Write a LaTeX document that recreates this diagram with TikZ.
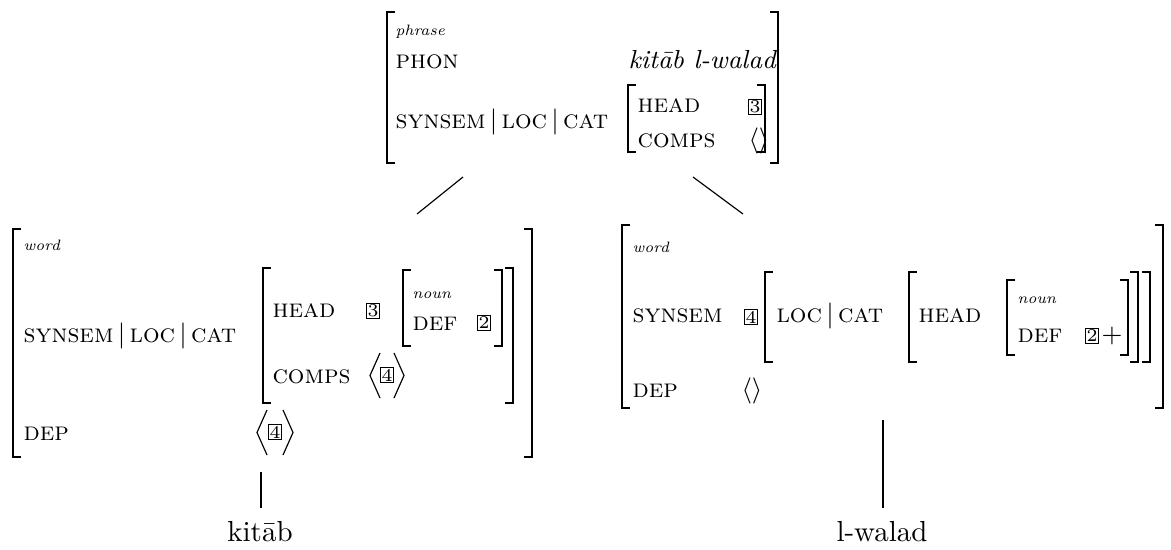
\documentclass[tikz,border=0pt]{standalone}
% square brackets of an attribute-value matrix: x, top y, bottom y
\newcommand{\avmL}[3]{\draw[brk] ({#1+8},#2) -- (#1,#2) -- (#1,#3) -- ({#1+8},#3);}
\newcommand{\avmR}[3]{\draw[brk] ({#1-8},#2) -- (#1,#2) -- (#1,#3) -- ({#1-8},#3);}
% angle brackets of a list: x, top y, bottom y, width
\newcommand{\avmLA}[4]{\draw[ang] ({#1+#4},#2) -- (#1,{(#2+#3)/2}) -- ({#1+#4},#3);}
\newcommand{\avmRA}[4]{\draw[ang] ({#1-#4},#2) -- (#1,{(#2+#3)/2}) -- ({#1-#4},#3);}
\begin{document}
\begin{tikzpicture}[x=0.345pt,y=-0.345pt,
  brk/.style={line width=0.55pt},
  ang/.style={line width=0.4pt, line join=miter},
  edge/.style={line width=0.4pt},
  attr/.style={anchor=base west, inner sep=0pt, font=\small\scshape},
  typ/.style={anchor=base west, inner sep=0pt, font=\fontsize{5.2}{6}\selectfont\itshape},
  val/.style={anchor=base west, inner sep=0pt, font=\small},
  tagbox/.style={draw, line width=0.4pt, inner sep=0pt, minimum width=4.6pt,
    minimum height=4.9pt, font=\fontsize{6.2}{7}\selectfont},
  leaf/.style={anchor=base, inner sep=0pt, font=\normalsize}]
\useasboundingbox (0,0) rectangle (1171,549);

% ---------- mother: phrase ----------
\avmL{387}{12}{163}
\avmR{778}{12}{163}
\node[typ]  (mtype) at (395,35)  {phrase};
\node[attr] (mphon) at (395,68)  {phon};
\node[val]  (mphonv) at (628,68) {\textit{kit\=ab l-walad}};
\node[attr] (mpath) at (395,128) {synsem\,$|$\,loc\,$|$\,cat};
\avmL{628}{85}{152}
\avmR{765}{85}{152}
\node[attr] (mhead) at (637,112) {head};
\node[attr] (mcomps) at (637,147) {comps};
\node[tagbox] (mtag3) at (755,107) {3};
\node[val]  (mcompsv) at (748,147) {$\langle\rangle$};

% ---------- left daughter: kitab ----------
\avmL{13}{229}{457}
\avmR{532}{229}{457}
\node[typ]  (ktype) at (23,250)  {word};
\node[attr] (kpath) at (23,342)  {synsem\,$|$\,loc\,$|$\,cat};
\node[attr] (kdep)  at (23,440)  {dep};
\avmL{263}{268}{403}
\avmR{513}{268}{403}
\node[attr] (khead) at (272,317) {head};
\node[tagbox] (ktag3) at (373,311) {3};
\avmL{403}{270}{346}
\avmR{502}{270}{346}
\node[typ]  (knoun) at (412,298) {noun};
\node[attr] (kdef)  at (412,330) {def};
\node[tagbox] (ktag2) at (484,323) {2};
\node[attr] (kcomps) at (272,383) {comps};
\avmLA{370}{353}{398}{10}
\node[tagbox] (ktag4a) at (387,375) {4};
\avmRA{404}{353}{398}{10}
\avmLA{257}{410}{455}{10}
\node[tagbox] (ktag4b) at (275,432) {4};
\avmRA{293}{410}{455}{10}

% ---------- right daughter: l-walad ----------
\avmL{622}{225}{408}
\avmR{1163}{225}{408}
\node[typ]  (wtype) at (632,252) {word};
\node[attr] (wsynsem) at (632,322) {synsem};
\node[tagbox] (wtag4) at (751,317) {4};
\avmL{765}{272}{362}
\avmR{1150}{272}{362}
\node[attr] (wpath) at (776,322) {loc\,$|$\,cat};
\avmL{909}{272}{362}
\avmR{1138}{272}{362}
\node[attr] (whead) at (918,322) {head};
\avmL{1007}{280}{355}
\avmR{1128}{280}{355}
\node[typ]  (wnoun) at (1017,303) {noun};
\node[attr] (wdef)  at (1017,342) {def};
\node[tagbox] (wtag2) at (1092,336) {2};
\node[val]  (wplus) at (1101,342) {$+$};
\node[attr] (wdep)  at (632,397) {dep};
\node[val]  (wdepv) at (741,397) {$\langle\rangle$};

% ---------- words ----------
\node[leaf] (kitab) at (260,541) {kit\=ab};
\node[leaf] (walad) at (882,541) {l-walad};

% ---------- tree edges ----------
\coordinate (mL) at (463,177);
\coordinate (kT) at (417,214);
\coordinate (mR) at (693,177);
\coordinate (wT) at (743,214);
\coordinate (kB) at (261,472);
\coordinate (kW) at (261,508);
\coordinate (wB) at (883,420);
\coordinate (wW) at (883,508);
\draw[edge] (mL) -- (kT);
\draw[edge] (mR) -- (wT);
\draw[edge] (kB) -- (kW);
\draw[edge] (wB) -- (wW);
\end{tikzpicture}
\end{document}
